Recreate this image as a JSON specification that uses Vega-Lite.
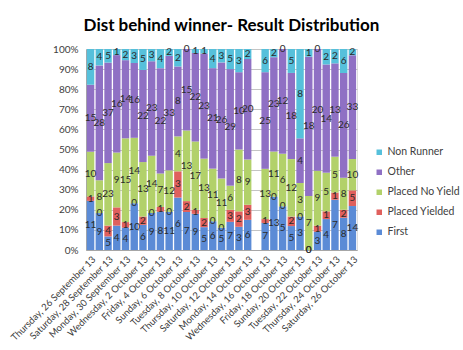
{
  "$schema": "https://vega.github.io/schema/vega-lite/v6.json",
  "width": 271,
  "height": 201,
  "autosize": {"type": "none"},
  "padding": {"left": 86, "top": 49, "right": 106, "bottom": 100},
  "background": "white",
  "title": {"text": "Dist behind winner- Result Distribution", "fontSize": 17, "font": "Lato", "fontWeight": "bold", "color": "#000000", "anchor": "middle", "dx": 10, "offset": 9},
  "datasets": {
    "ranks": [
      {"result": "First", "rank": 0},
      {"result": "Placed Yielded", "rank": 1},
      {"result": "Placed No Yield", "rank": 2},
      {"result": "Other", "rank": 3},
      {"result": "Non Runner", "rank": 4}
    ]
  },
  "data": {"values": [
    {"date": "Thursday, 26 September 13", "First": 11, "Placed Yielded": 1, "Placed No Yield": 10, "Other": 15, "Non Runner": 8},
    {"date": "Friday, 27 September 13", "First": 9, "Placed Yielded": 0, "Placed No Yield": 8, "Other": 28, "Non Runner": 4},
    {"date": "Saturday, 28 September 13", "First": 5, "Placed Yielded": 4, "Placed No Yield": 23, "Other": 37, "Non Runner": 5},
    {"date": "Sunday, 29 September 13", "First": 4, "Placed Yielded": 3, "Placed No Yield": 9, "Other": 16, "Non Runner": 1},
    {"date": "Monday, 30 September 13", "First": 4, "Placed Yielded": 1, "Placed No Yield": 15, "Other": 14, "Non Runner": 2},
    {"date": "Tuesday, 1 October 13", "First": 10, "Placed Yielded": 0, "Placed No Yield": 14, "Other": 16, "Non Runner": 3},
    {"date": "Wednesday, 2 October 13", "First": 6, "Placed Yielded": 2, "Placed No Yield": 13, "Other": 22, "Non Runner": 5},
    {"date": "Thursday, 3 October 13", "First": 9, "Placed Yielded": 0, "Placed No Yield": 14, "Other": 23, "Non Runner": 3},
    {"date": "Friday, 4 October 13", "First": 8, "Placed Yielded": 1, "Placed No Yield": 7, "Other": 22, "Non Runner": 4},
    {"date": "Saturday, 5 October 13", "First": 11, "Placed Yielded": 0, "Placed No Yield": 12, "Other": 33, "Non Runner": 2},
    {"date": "Sunday, 6 October 13", "First": 6, "Placed Yielded": 3, "Placed No Yield": 4, "Other": 8, "Non Runner": 2},
    {"date": "Monday, 7 October 13", "First": 7, "Placed Yielded": 2, "Placed No Yield": 13, "Other": 15, "Non Runner": 0},
    {"date": "Tuesday, 8 October 13", "First": 9, "Placed Yielded": 1, "Placed No Yield": 17, "Other": 22, "Non Runner": 1},
    {"date": "Wednesday, 9 October 13", "First": 5, "Placed Yielded": 2, "Placed No Yield": 13, "Other": 23, "Non Runner": 1},
    {"date": "Thursday, 10 October 13", "First": 6, "Placed Yielded": 0, "Placed No Yield": 11, "Other": 21, "Non Runner": 4},
    {"date": "Friday, 11 October 13", "First": 5, "Placed Yielded": 0, "Placed No Yield": 11, "Other": 26, "Non Runner": 3},
    {"date": "Saturday, 12 October 13", "First": 7, "Placed Yielded": 3, "Placed No Yield": 6, "Other": 29, "Non Runner": 5},
    {"date": "Sunday, 13 October 13", "First": 3, "Placed Yielded": 2, "Placed No Yield": 8, "Other": 10, "Non Runner": 3},
    {"date": "Monday, 14 October 13", "First": 6, "Placed Yielded": 3, "Placed No Yield": 9, "Other": 20, "Non Runner": 2},
    {"date": "Wednesday, 16 October 13", "First": 7, "Placed Yielded": 1, "Placed No Yield": 13, "Other": 25, "Non Runner": 6},
    {"date": "Thursday, 17 October 13", "First": 13, "Placed Yielded": 0, "Placed No Yield": 11, "Other": 23, "Non Runner": 2},
    {"date": "Friday, 18 October 13", "First": 5, "Placed Yielded": 0, "Placed No Yield": 6, "Other": 12, "Non Runner": 0},
    {"date": "Saturday, 19 October 13", "First": 5, "Placed Yielded": 2, "Placed No Yield": 12, "Other": 18, "Non Runner": 5},
    {"date": "Sunday, 20 October 13", "First": 3, "Placed Yielded": 0, "Placed No Yield": 3, "Other": 4, "Non Runner": 8},
    {"date": "Monday, 21 October 13", "First": 0, "Placed Yielded": 0, "Placed No Yield": 7, "Other": 18, "Non Runner": 1},
    {"date": "Tuesday, 22 October 13", "First": 3, "Placed Yielded": 1, "Placed No Yield": 9, "Other": 20, "Non Runner": 0},
    {"date": "Wednesday, 23 October 13", "First": 4, "Placed Yielded": 1, "Placed No Yield": 5, "Other": 14, "Non Runner": 2},
    {"date": "Thursday, 24 October 13", "First": 7, "Placed Yielded": 1, "Placed No Yield": 5, "Other": 13, "Non Runner": 2},
    {"date": "Friday, 25 October 13", "First": 8, "Placed Yielded": 2, "Placed No Yield": 8, "Other": 26, "Non Runner": 6},
    {"date": "Saturday, 26 October 13", "First": 14, "Placed Yielded": 5, "Placed No Yield": 10, "Other": 33, "Non Runner": 2}
  ]},
  "transform": [
    {"fold": ["First", "Placed Yielded", "Placed No Yield", "Other", "Non Runner"], "as": ["result", "value"]},
    {"lookup": "result", "from": {"data": {"name": "ranks"}, "key": "result", "fields": ["rank"]}}
  ],
  "encoding": {
    "x": {
      "field": "date", "type": "ordinal",
      "scale": {
        "domain": ["Thursday, 26 September 13", "Friday, 27 September 13", "Saturday, 28 September 13", "Sunday, 29 September 13", "Monday, 30 September 13", "Tuesday, 1 October 13", "Wednesday, 2 October 13", "Thursday, 3 October 13", "Friday, 4 October 13", "Saturday, 5 October 13", "Sunday, 6 October 13", "Monday, 7 October 13", "Tuesday, 8 October 13", "Wednesday, 9 October 13", "Thursday, 10 October 13", "Friday, 11 October 13", "Saturday, 12 October 13", "Sunday, 13 October 13", "Monday, 14 October 13", "Tuesday, 15 October 13", "Wednesday, 16 October 13", "Thursday, 17 October 13", "Friday, 18 October 13", "Saturday, 19 October 13", "Sunday, 20 October 13", "Monday, 21 October 13", "Tuesday, 22 October 13", "Wednesday, 23 October 13", "Thursday, 24 October 13", "Friday, 25 October 13", "Saturday, 26 October 13"],
        "paddingInner": 0.15, "paddingOuter": 0.1
      },
      "axis": {
        "title": null, "labelAngle": -45, "ticks": false, "domainColor": "#a6a6a6",
        "labelFont": "Lato", "labelFontSize": 9.5, "labelColor": "#404040", "labelPadding": 4,
        "values": ["Thursday, 26 September 13", "Saturday, 28 September 13", "Monday, 30 September 13", "Wednesday, 2 October 13", "Friday, 4 October 13", "Sunday, 6 October 13", "Tuesday, 8 October 13", "Thursday, 10 October 13", "Saturday, 12 October 13", "Monday, 14 October 13", "Wednesday, 16 October 13", "Friday, 18 October 13", "Sunday, 20 October 13", "Tuesday, 22 October 13", "Thursday, 24 October 13", "Saturday, 26 October 13"]
      }
    },
    "y": {
      "field": "value", "type": "quantitative", "stack": "normalize",
      "axis": {
        "title": null, "format": ".0%", "values": [0, 0.1, 0.2, 0.3, 0.4, 0.5, 0.6, 0.7, 0.8, 0.9, 1],
        "ticks": false, "domainColor": "#a6a6a6", "gridColor": "#c4c4c4",
        "labelFont": "Lato", "labelFontSize": 10, "labelColor": "#404040", "labelPadding": 8
      }
    },
    "color": {
      "field": "result", "type": "nominal",
      "scale": {
        "domain": ["First", "Placed Yielded", "Placed No Yield", "Other", "Non Runner"],
        "range": ["#5b8bd6", "#e0605d", "#b2d16a", "#8f70c4", "#56c0db"]
      },
      "legend": {
        "title": null, "orient": "none", "legendX": 288, "legendY": 98, "padding": 0,
        "values": ["Non Runner", "Other", "Placed No Yield", "Placed Yielded", "First"],
        "symbolType": "square", "symbolSize": 30, "symbolStrokeWidth": 0, "labelOffset": 3,
        "labelFont": "Lato", "labelFontSize": 10.5, "labelColor": "#404040", "rowPadding": 9
      }
    },
    "order": {"field": "rank", "type": "quantitative", "sort": "ascending"}
  },
  "layer": [
    {"mark": {"type": "bar"}},
    {
      "mark": {"type": "text", "font": "Lato", "fontSize": 10},
      "encoding": {
        "y": {"field": "value", "type": "quantitative", "stack": "normalize", "bandPosition": 0.5},
        "text": {"field": "value", "type": "quantitative"},
        "fill": {"value": "#2b2b2b"}
      }
    }
  ]
}
